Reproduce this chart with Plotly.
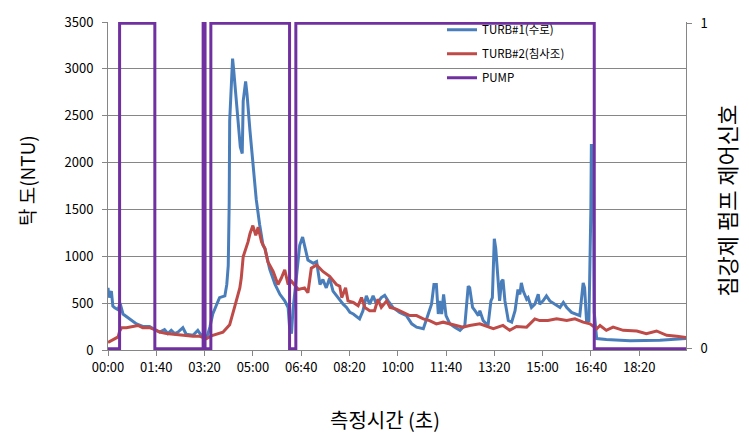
import plotly.graph_objects as go

# ---------------- data ----------------
tick_vals = [0, 100, 200, 300, 400, 500, 600, 700, 800, 900, 1000, 1100]
tick_text = ["00:00", "01:40", "03:20", "05:00", "06:40", "08:20",
             "10:00", "11:40", "13:20", "15:00", "16:40", "18:20"]

t_turb1 = [0, 2, 5, 7, 10, 14, 21, 25, 31, 45, 59, 72, 86, 97, 107, 117, 124, 131,
           138, 145, 155, 162, 176, 186, 193, 199, 204, 211, 217, 224, 231, 242, 246,
           249, 251, 252, 255, 258, 260, 264, 269, 274, 278, 280, 285, 288, 294, 300,
           307, 314, 321, 325, 335, 346, 356, 366, 373, 376, 380, 383, 390, 397, 403,
           407, 414, 425, 432, 439, 445, 452, 459, 466, 476, 487, 494, 501, 508, 521,
           528, 535, 542, 549, 556, 566, 573, 580, 590, 604, 618, 629, 639, 653, 661,
           670, 675, 680, 684, 687, 691, 695, 700, 708, 718, 729, 739, 746, 749, 755,
           760, 767, 770, 777, 787, 793, 796, 800, 803, 806, 809, 811, 815, 818, 822,
           829, 836, 843, 849, 853, 856, 860, 867, 870, 877, 884, 891, 894, 901, 908,
           915, 925, 936, 943, 950, 960, 970, 977, 984, 987, 991, 996, 1000, 1001,
           1005, 1007, 1012, 1032, 1081, 1143, 1197]
turb1 = [663, 560, 600, 629, 470, 450, 430, 500, 384, 332, 279, 251, 251, 217, 192, 217,
         175, 210, 175, 192, 238, 168, 157, 210, 157, 170, 122, 244, 384, 472, 559, 577,
         700, 900, 1572, 2445, 2800, 3110, 3005, 2760, 2481, 2166, 2096, 2655, 2865,
         2725, 2340, 1991, 1607, 1340, 1118, 1083, 860, 699, 594, 524, 454, 244, 175,
         419, 768, 1118, 1205, 1118, 961, 925, 943, 699, 751, 663, 768, 629, 559, 489,
         454, 401, 384, 332, 419, 577, 489, 577, 489, 559, 584, 524, 454, 401, 367, 279,
         244, 227, 349, 489, 699, 699, 384, 524, 384, 594, 367, 279, 244, 210, 262, 681,
         664, 454, 419, 367, 419, 314, 262, 524, 559, 1187, 1083, 838, 663, 524, 733,
         751, 524, 314, 297, 419, 646, 594, 716, 629, 542, 559, 454, 489, 594, 489, 524,
         577, 524, 489, 454, 507, 454, 401, 384, 367, 716, 663, 314, 314, 1500, 2183,
         2183, 400, 122, 112, 98, 105, 122]

t_turb2 = [0, 10, 21, 24, 28, 38, 52, 62, 72, 86, 97, 107, 121, 135, 148, 162, 176, 190,
           204, 217, 231, 238, 245, 252, 262, 269, 273, 276, 280, 290, 294, 300, 306,
           311, 318, 325, 331, 342, 352, 359, 366, 373, 380, 394, 407, 414, 421, 432,
           445, 459, 473, 480, 484, 492, 497, 508, 518, 525, 532, 542, 552, 559, 566,
           577, 584, 597, 611, 625, 639, 653, 666, 680, 694, 708, 722, 735, 749, 770,
           798, 818, 832, 846, 867, 877, 884, 894, 911, 929, 950, 967, 984, 998, 1012,
           1019, 1032, 1046, 1067, 1095, 1115, 1136, 1157, 1178, 1197]
turb2 = [80, 105, 140, 200, 238, 238, 251, 262, 238, 238, 217, 192, 175, 168, 157, 157,
         147, 147, 122, 157, 175, 190, 230, 270, 454, 594, 663, 768, 996, 1153, 1240,
         1328, 1223, 1310, 1153, 1083, 943, 838, 699, 768, 856, 699, 733, 646, 663, 611,
         873, 908, 838, 786, 699, 681, 559, 663, 524, 507, 472, 559, 454, 419, 419, 542,
         454, 524, 454, 437, 401, 367, 367, 332, 314, 279, 297, 279, 262, 244, 262, 279,
         227, 262, 210, 251, 244, 297, 332, 314, 314, 332, 314, 332, 297, 279, 227, 262,
         210, 244, 210, 203, 175, 203, 157, 147, 133]

t_pump = [0, 24, 97, 197, 201, 213, 376, 389, 1007, 1197]
pump = [0, 1, 0, 1, 0, 1, 0, 1, 0, 0]

names = ["TURB#1(수로)", "TURB#2(침사조)", "PUMP"]
colors = ["#4A7EBB", "#BE4B48", "#7030A0"]

# ---------------- figure ----------------
FONT = "Noto Sans CJK KR"
fig = go.Figure()
fig.add_trace(go.Scatter(x=t_turb1, y=turb1, mode="lines", name=names[0],
                         legendgroup="a", line=dict(color=colors[0], width=3)))
fig.add_trace(go.Scatter(x=t_turb2, y=turb2, mode="lines", name=names[1],
                         legendgroup="b", line=dict(color=colors[1], width=3)))
fig.add_trace(go.Scatter(x=t_pump, y=pump, mode="lines", name=names[2], yaxis="y2",
                         legendgroup="c", line=dict(color=colors[2], width=3, shape="hv")))

PW, PH, L, T = 578, 334, 108, 16

def px(x):
    return (x - L) / PW

def py(y):
    return (T + PH - y) / PH

fig.update_layout(
    width=749, height=439,
    margin=dict(l=L, r=749 - L - PW, t=T, b=439 - T - PH),
    paper_bgcolor="white", plot_bgcolor="white",
    font=dict(family=FONT, size=13, color="#000000"),
    showlegend=True,
    legend=dict(x=px(442), y=py(9), xanchor="left", yanchor="top",
                bgcolor="rgba(0,0,0,0)", font=dict(size=11.5, color="#000000"),
                tracegroupgap=5, itemwidth=30),
    xaxis=dict(range=[0, 1197], tickvals=tick_vals, ticktext=tick_text,
               showgrid=False, showline=True, linecolor="#868686", linewidth=1,
               ticks="outside", ticklen=5, tickcolor="#868686", zeroline=False,
               tickfont=dict(size=13)),
    yaxis=dict(range=[0, 3500], dtick=500, showgrid=True, gridcolor="#868686",
               gridwidth=1, showline=True, linecolor="#868686", ticks="outside",
               ticklen=5, tickcolor="#868686", zeroline=False,
               tickfont=dict(size=13), ticklabelstandoff=6),
    yaxis2=dict(range=[-0.004, 1.004], overlaying="y", side="right",
                tickvals=[0, 1], showgrid=False, showline=True, linecolor="#868686",
                ticks="outside", ticklen=5, tickcolor="#868686", zeroline=False,
                tickfont=dict(size=13), ticklabelstandoff=6),
    annotations=[
        dict(text="탁 도(NTU)", x=px(26), y=py(178), xref="paper", yref="paper",
             textangle=-90, showarrow=False, xanchor="center", yanchor="middle",
             font=dict(size=19)),
        dict(text="침강제 펌프 제어신호", x=px(726), y=py(198), xref="paper", yref="paper",
             textangle=-90, showarrow=False, xanchor="center", yanchor="middle",
             font=dict(size=22)),
        dict(text="측정시간 (초)", x=px(385), y=py(421), xref="paper", yref="paper",
             showarrow=False, xanchor="center", yanchor="middle",
             font=dict(size=20)),
    ],
)

fig.write_html("out.html", config={"displayModeBar": False},
               post_script="document.body.style.margin='0';document.body.style.overflow='hidden';")
